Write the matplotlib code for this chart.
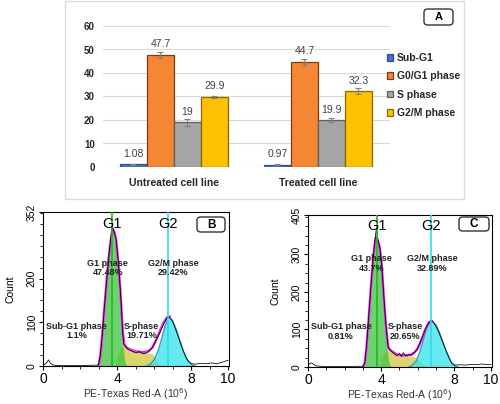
import matplotlib
matplotlib.use("Agg")
import matplotlib.pyplot as plt
import numpy as np
from matplotlib.patches import FancyBboxPatch, Rectangle
from matplotlib.ticker import MultipleLocator

plt.rcParams['font.family'] = ['Liberation Sans', 'DejaVu Sans']

# ---------------- Panel A data ----------------
groups = ['Untreated cell line', 'Treated cell line']
phases = ['Sub-G1', 'G0/G1 phase', 'S phase', 'G2/M phase']
untreated = [1.08, 47.7, 19, 29.9]
treated = [0.97, 44.7, 19.9, 32.3]
untreated_err = [0.1, 1.2, 1.6, 0.5]
treated_err = [0.1, 1.3, 0.9, 1.4]
untreated_lbl = ['1.08', '47.7', '19', '29.9']
treated_lbl = ['0.97', '44.7', '19.9', '32.3']
bar_yticks = [0, 10, 20, 30, 40, 50, 60]

# ---------------- Panel B data (untreated histogram) ----------------
b_x = [0.0, 0.15, 0.3, 0.4, 0.55, 0.8, 1.5, 2.2, 2.8,
       3.0, 3.1, 3.2, 3.3, 3.4, 3.5, 3.6,
       3.68, 3.76, 3.85, 3.95, 4.07, 4.17, 4.25, 4.3, 4.36, 4.45,
       4.6, 4.75, 4.9, 5.05, 5.2, 5.35, 5.5, 5.65, 5.8, 5.95,
       6.1, 6.25, 6.4, 6.55, 6.7, 6.8, 6.95, 7.1, 7.25, 7.4,
       7.55, 7.7, 7.85, 8.0, 8.2, 8.5, 8.8, 9.1, 9.4, 9.7, 10.0]
b_count = [3, 5, 14, 6, 2, 1, 1, 1, 2,
           2, 25, 70, 125, 175, 225, 268,
           298, 316, 305, 290, 238, 180, 125, 80, 50, 44,
           38, 35, 32, 30, 33, 29, 28, 31, 36, 44,
           58, 70, 84, 98, 110, 113, 106, 92, 74, 56,
           38, 22, 11, 6, 4, 6, 5, 7, 5, 9, 13]
b_fit_x = [3.0, 3.1, 3.2, 3.3, 3.4, 3.5, 3.6, 3.7, 3.78, 3.87, 3.95, 4.07, 4.17, 4.25, 4.32, 4.4, 4.5,
           4.7, 4.9, 5.1, 5.3, 5.5, 5.7, 5.9, 6.1, 6.3, 6.5, 6.7, 6.85]
b_fit = [0, 24, 70, 125, 175, 225, 268, 300, 314, 305, 290, 238, 180, 125, 75, 50, 43,
         38, 35, 33, 32, 32, 34, 42, 58, 78, 98, 111, 113]
b_g1_x = [3.0, 3.1, 3.2, 3.3, 3.4, 3.5, 3.6, 3.68, 3.76, 3.85, 3.95, 4.07, 4.17, 4.25, 4.32, 4.4, 4.5]
b_g1 = [0, 22, 68, 122, 172, 222, 265, 295, 312, 300, 283, 225, 160, 100, 50, 15, 0]
b_s_x = [3.9, 4.05, 4.2, 4.35, 4.5, 4.7, 4.9, 5.1, 5.3, 5.5, 5.7, 5.9, 6.05, 6.2, 6.35]
b_s = [0, 25, 42, 44, 41, 37, 34, 31, 32, 29, 30, 28, 20, 8, 0]
b_g2_x = [5.6, 5.8, 6.0, 6.2, 6.4, 6.6, 6.8, 7.0, 7.2, 7.4, 7.6, 7.8, 8.0, 8.2]
b_g2 = [0, 4, 14, 32, 60, 92, 112, 104, 84, 58, 33, 14, 4, 0]
b_yticks = [0, 100, 200, 352]
b_g1_pos, b_g2_pos = 3.72, 6.74
b_labels = [('G1 phase\n47.48%', 3.5, 224), ('G2/M phase\n29.42%', 7.03, 224),
            ('Sub-G1 phase\n1.1%', 1.82, 80), ('S-phase\n19.71%', 5.33, 80)]

# ---------------- Panel C data (treated histogram) ----------------
c_x = [0.0, 0.1, 0.2, 0.3, 0.45, 0.7, 1.2, 2.0, 2.8,
       3.0, 3.1, 3.2, 3.33, 3.43, 3.53, 3.62, 3.7, 3.75, 3.8,
       3.85, 3.93, 4.03, 4.12, 4.21, 4.3, 4.39, 4.48, 4.6, 4.7,
       4.85, 5.0, 5.1, 5.2, 5.35, 5.5, 5.65, 5.8, 5.95, 6.1,
       6.25, 6.4, 6.55, 6.7, 6.8, 6.95, 7.1, 7.25, 7.4, 7.55,
       7.7, 7.85, 8.0, 8.3, 8.6, 8.9, 9.2, 9.5, 9.8, 10.0]
c_count = [6, 9, 11, 7, 3, 2, 1, 1, 2,
           2, 10, 55, 142, 210, 273, 320, 355, 372, 345,
           335, 317, 273, 205, 142, 90, 50, 46, 40, 36,
           30, 36, 28, 38, 30, 33, 31, 38, 45, 62,
           80, 100, 115, 124, 122, 112, 98, 80, 62, 43,
           26, 11, 5, 6, 5, 7, 6, 8, 6, 7]
c_fit_x = [3.0, 3.1, 3.2, 3.33, 3.43, 3.53, 3.62, 3.7, 3.78, 3.85, 3.93, 4.03, 4.12, 4.21, 4.3, 4.39, 4.5,
           4.65, 4.8, 5.0, 5.2, 5.4, 5.6, 5.8, 6.0, 6.2, 6.4, 6.6, 6.75]
c_fit = [0, 10, 55, 140, 208, 270, 318, 345, 340, 330, 315, 272, 205, 142, 90, 52, 45,
         40, 35, 32, 31, 31, 33, 38, 50, 72, 98, 118, 123]
c_g1_x = [3.0, 3.1, 3.2, 3.33, 3.43, 3.53, 3.62, 3.7, 3.78, 3.85, 3.93, 4.03, 4.12, 4.21, 4.3, 4.4, 4.5]
c_g1 = [0, 8, 52, 138, 205, 268, 315, 342, 338, 328, 310, 262, 190, 120, 60, 18, 0]
c_s_x = [3.9, 4.05, 4.2, 4.35, 4.5, 4.7, 4.9, 5.1, 5.3, 5.5, 5.7, 5.9, 6.1, 6.3, 6.5]
c_s = [0, 25, 42, 45, 42, 36, 33, 32, 31, 30, 29, 26, 18, 7, 0]
c_g2_x = [5.5, 5.7, 5.9, 6.1, 6.3, 6.5, 6.75, 7.0, 7.2, 7.4, 7.6, 7.8, 8.0, 8.2]
c_g2 = [0, 5, 15, 38, 72, 105, 124, 112, 90, 62, 36, 14, 4, 0]
c_yticks = [0, 100, 200, 300, 405]
c_g1_pos, c_g2_pos = 3.77, 6.71
c_labels = [('G1 phase\n43.7%', 3.48, 276), ('G2/M phase\n32.89%', 6.81, 276),
            ('Sub-G1 phase\n0.81%', 1.8, 95), ('S-phase\n20.65%', 5.3, 95)]

xticks_flow = [0, 4, 8, 10]

W, H = 500, 404
fig = plt.figure(figsize=(W / 100, H / 100), dpi=100)


def fbox(x0, y0, x1, y1):
    return [x0 / W, 1 - y1 / H, (x1 - x0) / W, (y1 - y0) / H]


def label_box(cx, cy, w, h, text, fs):
    p = FancyBboxPatch(((cx - w / 2) / W, 1 - (cy + h / 2) / H), w / W, h / H,
                       boxstyle="round,pad=0,rounding_size=0.008",
                       transform=fig.transFigure, facecolor='white', edgecolor='#333333',
                       linewidth=1.0, zorder=10)
    fig.add_artist(p)
    fig.text(cx / W, 1 - cy / H, text, ha='center', va='center', fontsize=fs,
             fontweight='bold', zorder=11)


# outer light frame of panel A
fig.add_artist(Rectangle((65 / W, 1 - 199 / H), (464 - 65) / W, (199 - 1) / H,
                         transform=fig.transFigure, facecolor='none', edgecolor='#dcdcdc', lw=1.0))

# ---------------- Panel A ----------------
ax = fig.add_axes(fbox(103, 26, 390, 167))
colors = ['#4472C4', '#F58634', '#A5A5A5', '#FFC000']
edges = ['#2c4d8a', '#7a3d12', '#5e5e5e', '#8a6a00']
bw = 0.1875
gx = np.arange(len(groups))
for i, ph in enumerate(phases):
    vals = [untreated[i], treated[i]]
    errs = [untreated_err[i], treated_err[i]]
    xs = gx + (i - 1.5) * bw
    ax.bar(xs, vals, width=bw, color=colors[i], edgecolor=edges[i], linewidth=0.9,
           label=ph, zorder=3)
    ax.errorbar(xs, vals, yerr=errs, fmt='none', ecolor='#808080', elinewidth=0.8,
                capsize=2, capthick=0.8, zorder=4)
    for xx, v, s in zip(xs, vals, [untreated_lbl[i], treated_lbl[i]]):
        ax.text(xx, v + 4.5, s, ha='center', va='center', fontsize=7.5, color='#404040')
ax.set_ylim(0, 60)
ax.set_xlim(-0.493, 1.5)
ax.set_yticks(bar_yticks)
ax.set_xticks(gx)
ax.set_xticklabels(groups, fontweight='bold', fontsize=7.5, color='#262626')
ax.tick_params(axis='both', length=0)
ax.tick_params(axis='y', pad=6, labelsize=7, labelcolor='#262626')
ax.tick_params(axis='x', pad=8)
for lbl in ax.get_yticklabels():
    lbl.set_fontweight('bold')
ax.grid(axis='y', color='#d9d9d9', linewidth=0.8, zorder=0)
for sp in ax.spines.values():
    sp.set_visible(False)
leg = ax.legend(loc='upper left', bbox_to_anchor=(0.975, 0.838), frameon=False,
                prop={'weight': 'bold', 'size': 7.5}, handlelength=0.6, handleheight=0.6,
                handletextpad=0.35, labelspacing=0.8, borderaxespad=0)
for t in leg.get_texts():
    t.set_color('#262626')
label_box(438.5, 17, 29, 16, 'A', 8)


# ---------------- Panels B and C ----------------
def flow_panel(rect, xs, cnt, fx, fit, g1x, g1, sx, s, g2x, g2, ymax, yticks, g1p, g2p, labels,
               xmax):
    a = fig.add_axes(rect)
    a.fill_between(sx, s, color='#D8D060', alpha=0.9, lw=0, zorder=1)
    a.fill_between(g1x, g1, color='#3CC43C', alpha=0.75, lw=0, zorder=2)
    a.fill_between(g2x, g2, color='#33E3EA', alpha=0.75, lw=0, zorder=2)
    a.plot(g2x, g2, color='#3399CC', lw=1.0, zorder=3)
    a.plot(fx, fit, color='#F020F0', lw=1.7, zorder=4)
    a.plot(xs, cnt, color='black', lw=0.55, zorder=5)
    a.axvline(g1p, color='#1FB81F', lw=1.2, zorder=6)
    a.axvline(g2p, color='#2EDCE6', lw=1.2, zorder=6)
    a.text(g1p, ymax * 0.925, 'G1', ha='center', va='center', fontsize=10.5, zorder=7)
    a.text(g2p, ymax * 0.925, 'G2', ha='center', va='center', fontsize=10.5, zorder=7)
    for txt, lx, ly in labels:
        a.text(lx, ly, txt, ha='center', va='center', fontsize=6.5, fontweight='bold',
               color='#222222', zorder=8, linespacing=1.1)
    a.set_xlim(0, xmax)
    a.set_ylim(0, ymax)
    a.set_xticks(xticks_flow)
    a.set_yticks(yticks)
    a.xaxis.set_minor_locator(MultipleLocator(1))
    a.yaxis.set_minor_locator(MultipleLocator(25))
    a.tick_params(axis='x', labelsize=10, length=3, pad=1.5)
    a.tick_params(axis='y', labelsize=7.5, length=3, pad=1.5)
    a.tick_params(which='minor', length=2)
    for lbl in a.get_yticklabels():
        lbl.set_rotation(90)
        lbl.set_va('center')
    a.set_xlabel('PE-Texas Red-A (10$^6$)', fontsize=7.5, color='#333333', labelpad=0)
    a.set_ylabel('Count', fontsize=7.5, labelpad=8)
    for sp in a.spines.values():
        sp.set_linewidth(0.8)
    return a


flow_panel(fbox(43, 212, 229, 366), b_x, b_count, b_fit_x, b_fit, b_g1_x, b_g1, b_s_x, b_s,
           b_g2_x, b_g2, 352, b_yticks, b_g1_pos, b_g2_pos, b_labels, 10.054)
label_box(211, 224.5, 28, 15, 'B', 8.5)

flow_panel(fbox(308, 215, 492, 367), c_x, c_count, c_fit_x, c_fit, c_g1_x, c_g1, c_s_x, c_s,
           c_g2_x, c_g2, 405, c_yticks, c_g1_pos, c_g2_pos, c_labels, 10.055)
label_box(474, 224, 30, 14, 'C', 8.5)

fig.savefig('out.png', dpi=100)
